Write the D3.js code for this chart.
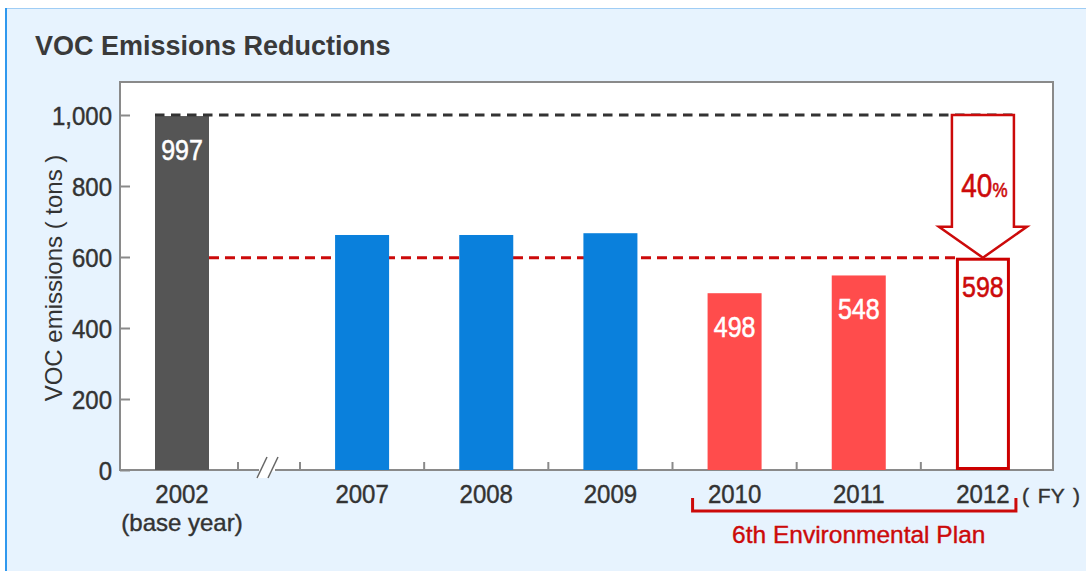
<!DOCTYPE html>
<html>
<head>
<meta charset="utf-8">
<script src="https://cdn.jsdelivr.net/npm/d3@7/dist/d3.min.js"></script>
<style>
  html, body { margin: 0; padding: 0; background: #ffffff; }
  svg { display: block; font-family: "Liberation Sans", Arial, sans-serif; }
</style>
</head>
<body>
<svg id="chart" width="1086" height="571"></svg>
<script>
// ---------- data ----------
const title = "VOC Emissions Reductions";
const yAxisTitle = "VOC emissions ( tons )";
const baseCategory = ["2002"];
const baseValues = [997];
const categories = ["2007", "2008", "2009", "2010", "2011", "2012"];
const values = [662, 662, 667, 498, 548, 598];
const barKinds = ["actual", "actual", "actual", "plan", "plan", "target"];
const labelledYears = ["2002", "2010", "2011", "2012"];
const yTicks = [0, 200, 400, 600, 800, 1000];
const baseLevel = 1000;
const targetLevel = 598;
const reductionPct = "40";
const baseSubLabel = "(base year)";
const unitLabel = "( FY )";
const planYears = ["2010", "2011", "2012"];
const planLabel = "6th Environmental Plan";

// ---------- layout ----------
const W = 1086, H = 571;
const plot = { left: 120, top: 82, right: 1053, bottom: 470 };
const svg = d3.select("#chart");

const colors = {
  base: "#555555", actual: "#0a80dc", plan: "#ff4c4c", target: "#cc0000",
  text: "#333333", axis: "#8a8a8a", red: "#cc0a0a"
};

function vstretch(sel, sy) {
  sel.each(function () {
    const t = d3.select(this);
    const tx = +t.attr("x") || 0, ty = +t.attr("y") || 0;
    t.attr("x", 0).attr("y", 0).attr("transform", `translate(${tx},${ty}) scale(1,${sy})`);
  });
}

// panel
svg.append("rect").attr("x", 5).attr("y", 8).attr("width", W).attr("height", H)
  .attr("fill", "#e7f3fe");
svg.append("line").attr("x1", 5).attr("x2", W).attr("y1", 8.5).attr("y2", 8.5)
  .attr("stroke", "#9fcdf5").attr("stroke-width", 1);
svg.append("line").attr("x1", 6).attr("x2", 6).attr("y1", 8).attr("y2", H)
  .attr("stroke", "#2f98ee").attr("stroke-width", 2);

// title
svg.append("text").attr("x", 35).attr("y", 55).text(title)
  .attr("font-size", 27).attr("font-weight", "bold").attr("fill", "#3a3a3a");

// plot area
svg.append("rect").attr("x", plot.left).attr("y", plot.top)
  .attr("width", plot.right - plot.left).attr("height", plot.bottom - plot.top)
  .attr("fill", "#ffffff").attr("stroke", colors.axis).attr("stroke-width", 2);

// scales
const y = d3.scaleLinear().domain([0, 1000]).range([plot.bottom, 115]);
const xBase = d3.scaleBand().domain(baseCategory).range([126, 238])
  .paddingInner(0.518).paddingOuter(0.259);
const x = d3.scaleBand().domain(categories).range([300, 1045])
  .paddingInner(0.565).paddingOuter(0.2825);
const xc = d => (d === baseCategory[0] ? xBase(d) + xBase.bandwidth() / 2 : x(d) + x.bandwidth() / 2);

// y axis
const yAxis = d3.axisLeft(y).tickValues(yTicks).tickFormat(d3.format(","))
  .tickSize(-10).tickPadding(8);
const gy = svg.append("g").attr("transform", `translate(${plot.left},0)`).call(yAxis);
gy.select(".domain").remove();
gy.selectAll(".tick line").attr("stroke", colors.axis).attr("stroke-width", 2);
gy.selectAll(".tick text").attr("font-size", 24).attr("fill", colors.text)
  .attr("stroke", colors.text).attr("stroke-width", 0.4)
  .attr("font-family", "Liberation Sans, Arial, sans-serif")
  .attr("dy", "0.36em");
vstretch(gy.selectAll(".tick text"), 1.08);

// y axis title
svg.append("text").attr("transform", `translate(62,278) rotate(-90)`)
  .attr("text-anchor", "middle").attr("font-size", 24).attr("fill", colors.text)
  .text(yAxisTitle);

// x ticks (band boundaries)
const xTickPos = [xBase.range()[1]].concat(categories.map(d => x(d) - x.step() * x.paddingInner() / 2));
svg.append("g").selectAll("line").data(xTickPos).join("line")
  .attr("x1", d => d).attr("x2", d => d).attr("y1", plot.bottom).attr("y2", plot.bottom - 8)
  .attr("stroke", colors.axis).attr("stroke-width", 2);

// axis break mark
const bx = (xBase.range()[1] + xTickPos[1]) / 2 - 2;
svg.append("path")
  .attr("d", `M${bx - 11},478 L${bx - 1},457 L${bx + 12},457 L${bx + 2},478 Z`)
  .attr("fill", "#ffffff");
svg.append("rect").attr("x", bx - 8).attr("y", plot.bottom - 1.5).attr("width", 16).attr("height", 3).attr("fill", "#ffffff");
svg.append("line").attr("x1", bx - 10).attr("y1", 478).attr("x2", bx).attr("y2", 457)
  .attr("stroke", "#666").attr("stroke-width", 1.5);
svg.append("line").attr("x1", bx + 1).attr("y1", 478).attr("x2", bx + 11).attr("y2", 457)
  .attr("stroke", "#666").attr("stroke-width", 1.5);

// target dashed (red), behind bars
svg.append("line")
  .attr("x1", xBase(baseCategory[0]) + xBase.bandwidth()).attr("x2", x("2012"))
  .attr("y1", y(targetLevel)).attr("y2", y(targetLevel))
  .attr("stroke", colors.red).attr("stroke-width", 3).attr("stroke-dasharray", "10,6");

// base bar
svg.append("rect").attr("x", xBase(baseCategory[0])).attr("width", xBase.bandwidth())
  .attr("y", y(baseValues[0])).attr("height", y(0) - y(baseValues[0]))
  .attr("fill", colors.base);

// bars
const barData = categories.map((c, i) => ({ c, v: values[i], k: barKinds[i] }));
svg.append("g").selectAll("rect").data(barData).join("rect")
  .attr("x", d => d.k === "target" ? x(d.c) + 1.5 : x(d.c))
  .attr("width", d => d.k === "target" ? x.bandwidth() - 3 : x.bandwidth())
  .attr("y", d => d.k === "target" ? y(d.v) + 1.5 : y(d.v))
  .attr("height", d => d.k === "target" ? y(0) - y(d.v) - 3 : y(0) - y(d.v))
  .attr("fill", d => d.k === "target" ? "#ffffff" : colors[d.k])
  .attr("stroke", d => d.k === "target" ? colors.target : "none")
  .attr("stroke-width", 3);

// base dashed line (black)
svg.append("line")
  .attr("x1", xBase(baseCategory[0])).attr("x2", x("2012") + x.bandwidth() + 9)
  .attr("y1", y(baseLevel)).attr("y2", y(baseLevel))
  .attr("stroke", "#333333").attr("stroke-width", 3).attr("stroke-dasharray", "9.5,6.5");

// arrow
const ac = xc("2012");
const aTop = y(baseLevel), aTip = y(targetLevel), aNeck = aTip - 31;
svg.append("path")
  .attr("d", `M${ac - 31},${aTop} L${ac + 31},${aTop} L${ac + 31},${aNeck} L${ac + 44},${aNeck} L${ac},${aTip} L${ac - 44},${aNeck} L${ac - 31},${aNeck} Z`)
  .attr("fill", "#ffffff").attr("stroke", colors.red).attr("stroke-width", 2.5)
  .attr("stroke-linejoin", "miter");
const pct = svg.append("text").attr("x", ac + 1).attr("y", 197).attr("text-anchor", "middle")
  .attr("fill", colors.red).attr("stroke", colors.red).attr("stroke-width", 0.5);
pct.append("tspan").attr("font-size", 28).text(reductionPct);
pct.append("tspan").attr("font-size", 17).attr("letter-spacing", -1).text("%");
vstretch(pct, 1.18);

// value labels
const allBars = [{ c: baseCategory[0], v: baseValues[0], k: "base" }].concat(barData);
const vl = svg.append("g").selectAll("text").data(allBars.filter(d => labelledYears.includes(d.c))).join("text")
  .attr("x", d => xc(d.c)).attr("y", d => y(d.v) + (d.k === "target" ? 39 : 44))
  .attr("text-anchor", "middle").attr("font-size", 25)
  .attr("fill", d => d.k === "target" ? colors.red : "#ffffff")
  .attr("stroke", d => d.k === "target" ? colors.red : "#ffffff").attr("stroke-width", 0.5)
  .text(d => d.v);
vstretch(vl, 1.15);

// x labels
const xl = svg.append("g").selectAll("text").data(baseCategory.concat(categories)).join("text")
  .attr("x", d => xc(d)).attr("y", 503).attr("text-anchor", "middle")
  .attr("font-size", 24).attr("fill", colors.text)
  .attr("stroke", colors.text).attr("stroke-width", 0.4).text(d => d);
vstretch(xl, 1.05);
svg.append("text").attr("x", xc(baseCategory[0])).attr("y", 531).attr("text-anchor", "middle")
  .attr("font-size", 24).attr("fill", colors.text)
  .attr("stroke", colors.text).attr("stroke-width", 0.4).text(baseSubLabel);
svg.append("text").attr("x", 1022).attr("y", 503).attr("font-size", 21)
  .attr("fill", colors.text).attr("stroke", colors.text).attr("stroke-width", 0.4)
  .attr("word-spacing", 3).attr("xml:space", "preserve").text(unitLabel);

// plan bracket
const bl = x(planYears[0]) - 15, br = x(planYears[planYears.length - 1]) + x.bandwidth() + 6;
svg.append("path").attr("d", `M${bl},498 L${bl},511 L${br},511 L${br},498`)
  .attr("fill", "none").attr("stroke", colors.red).attr("stroke-width", 3);
svg.append("text").attr("x", xc(planYears[1])).attr("y", 543).attr("text-anchor", "middle")
  .attr("font-size", 24.5).attr("fill", colors.red)
  .attr("stroke", colors.red).attr("stroke-width", 0.4).text(planLabel);
</script>
</body>
</html>
